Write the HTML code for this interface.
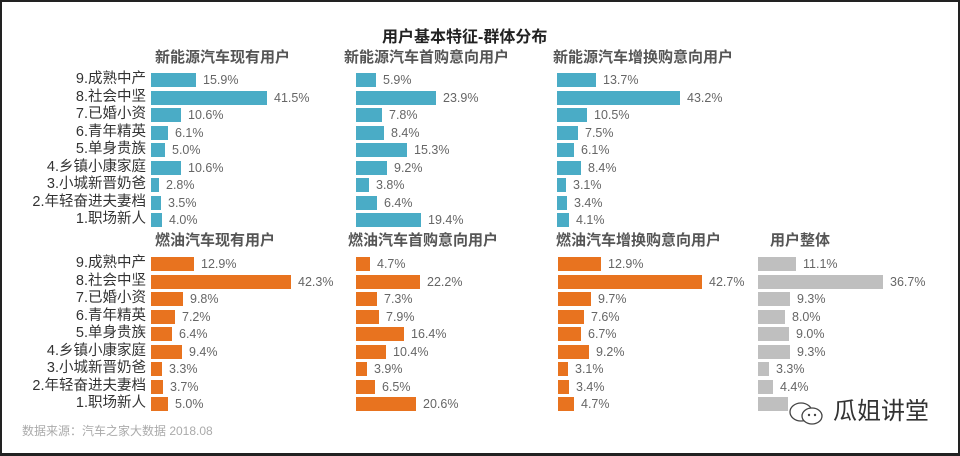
<!DOCTYPE html>
<html><head><meta charset="utf-8"><style>
*{margin:0;padding:0;box-sizing:border-box}
body{width:960px;height:456px;background:#fff;position:relative;overflow:hidden;font-family:"Liberation Sans","Noto Sans CJK SC",sans-serif}
.frame{position:absolute;left:0;top:0;width:960px;height:456px;border:2px solid #222;border-bottom-width:3px}
.t{position:absolute;font-weight:bold;color:#555;font-size:15px;white-space:nowrap;line-height:18px}
.cats{position:absolute;left:0;width:146px;text-align:right;font-size:14.5px;color:#333}
.cats div{height:17.5px;line-height:15px;white-space:nowrap}
.p{position:absolute}
.p div{height:17.5px;display:flex;align-items:flex-start}
.p i{display:block;height:14px}
.p span{font-size:12.5px;color:#666;margin-left:7px;line-height:14px}
.b i{background:#4aacc6}.o i{background:#e8731f}.g i{background:#bfbfbf}
</style></head><body>
<div class="frame"></div>
<div class="t" style="left:382px;top:29px;font-size:16px;color:#222">用户基本特征-群体分布</div>
<div class="t" style="left:155px;top:49px">新能源汽车现有用户</div>
<div class="t" style="left:344px;top:49px">新能源汽车首购意向用户</div>
<div class="t" style="left:553px;top:49px">新能源汽车增换购意向用户</div>
<div class="t" style="left:155px;top:232px">燃油汽车现有用户</div>
<div class="t" style="left:348px;top:232px">燃油汽车首购意向用户</div>
<div class="t" style="left:556px;top:232px">燃油汽车增换购意向用户</div>
<div class="t" style="left:770px;top:232px">用户整体</div>

<div class="cats" style="top:72px"><div>9.成熟中产</div><div>8.社会中坚</div><div>7.已婚小资</div><div>6.青年精英</div><div>5.单身贵族</div><div>4.乡镇小康家庭</div><div>3.小城新晋奶爸</div><div>2.年轻奋进夫妻档</div><div>1.职场新人</div></div>
<div class="cats" style="top:256px"><div>9.成熟中产</div><div>8.社会中坚</div><div>7.已婚小资</div><div>6.青年精英</div><div>5.单身贵族</div><div>4.乡镇小康家庭</div><div>3.小城新晋奶爸</div><div>2.年轻奋进夫妻档</div><div>1.职场新人</div></div>

<div class="p b" style="left:151px;top:73px">
<div><i style="width:45px"></i><span>15.9%</span></div><div><i style="width:116px"></i><span>41.5%</span></div><div><i style="width:30px"></i><span>10.6%</span></div><div><i style="width:17px"></i><span>6.1%</span></div><div><i style="width:14px"></i><span>5.0%</span></div><div><i style="width:30px"></i><span>10.6%</span></div><div><i style="width:8px"></i><span>2.8%</span></div><div><i style="width:10px"></i><span>3.5%</span></div><div><i style="width:11px"></i><span>4.0%</span></div></div>
<div class="p b" style="left:356px;top:73px">
<div><i style="width:20px"></i><span>5.9%</span></div><div><i style="width:80px"></i><span>23.9%</span></div><div><i style="width:26px"></i><span>7.8%</span></div><div><i style="width:28px"></i><span>8.4%</span></div><div><i style="width:51px"></i><span>15.3%</span></div><div><i style="width:31px"></i><span>9.2%</span></div><div><i style="width:13px"></i><span>3.8%</span></div><div><i style="width:21px"></i><span>6.4%</span></div><div><i style="width:65px"></i><span>19.4%</span></div></div>
<div class="p b" style="left:557px;top:73px">
<div><i style="width:39px"></i><span>13.7%</span></div><div><i style="width:123px"></i><span>43.2%</span></div><div><i style="width:30px"></i><span>10.5%</span></div><div><i style="width:21px"></i><span>7.5%</span></div><div><i style="width:17px"></i><span>6.1%</span></div><div><i style="width:24px"></i><span>8.4%</span></div><div><i style="width:9px"></i><span>3.1%</span></div><div><i style="width:10px"></i><span>3.4%</span></div><div><i style="width:12px"></i><span>4.1%</span></div></div>

<div class="p o" style="left:151px;top:257px">
<div><i style="width:43px"></i><span>12.9%</span></div><div><i style="width:140px"></i><span>42.3%</span></div><div><i style="width:32px"></i><span>9.8%</span></div><div><i style="width:24px"></i><span>7.2%</span></div><div><i style="width:21px"></i><span>6.4%</span></div><div><i style="width:31px"></i><span>9.4%</span></div><div><i style="width:11px"></i><span>3.3%</span></div><div><i style="width:12px"></i><span>3.7%</span></div><div><i style="width:17px"></i><span>5.0%</span></div></div>
<div class="p o" style="left:356px;top:257px">
<div><i style="width:14px"></i><span>4.7%</span></div><div><i style="width:64px"></i><span>22.2%</span></div><div><i style="width:21px"></i><span>7.3%</span></div><div><i style="width:23px"></i><span>7.9%</span></div><div><i style="width:48px"></i><span>16.4%</span></div><div><i style="width:30px"></i><span>10.4%</span></div><div><i style="width:11px"></i><span>3.9%</span></div><div><i style="width:19px"></i><span>6.5%</span></div><div><i style="width:60px"></i><span>20.6%</span></div></div>
<div class="p o" style="left:558px;top:257px">
<div><i style="width:43px"></i><span>12.9%</span></div><div><i style="width:144px"></i><span>42.7%</span></div><div><i style="width:33px"></i><span>9.7%</span></div><div><i style="width:26px"></i><span>7.6%</span></div><div><i style="width:23px"></i><span>6.7%</span></div><div><i style="width:31px"></i><span>9.2%</span></div><div><i style="width:10px"></i><span>3.1%</span></div><div><i style="width:11px"></i><span>3.4%</span></div><div><i style="width:16px"></i><span>4.7%</span></div></div>
<div class="p g" style="left:758px;top:257px">
<div><i style="width:38px"></i><span>11.1%</span></div><div><i style="width:125px"></i><span>36.7%</span></div><div><i style="width:32px"></i><span>9.3%</span></div><div><i style="width:27px"></i><span>8.0%</span></div><div><i style="width:31px"></i><span>9.0%</span></div><div><i style="width:32px"></i><span>9.3%</span></div><div><i style="width:11px"></i><span>3.3%</span></div><div><i style="width:15px"></i><span>4.4%</span></div><div><i style="width:30px"></i><span></span></div></div>

<div style="position:absolute;left:22px;top:422px;font-size:12px;color:#aaa;white-space:nowrap">数据来源：汽车之家大数据 2018.08</div>
<svg style="position:absolute;left:787px;top:398px" width="40" height="30"><ellipse cx="14" cy="14" rx="11" ry="9" fill="#fff" stroke="#444" stroke-width="1.3"/><ellipse cx="25" cy="18" rx="10" ry="8" fill="#fff" stroke="#444" stroke-width="1.3"/><circle cx="22" cy="17" r="1.2" fill="#444"/><circle cx="28" cy="17" r="1.2" fill="#444"/></svg>
<div style="position:absolute;left:833px;top:398px;font-size:24px;color:#333;white-space:nowrap;background:#fff;line-height:28px">瓜姐讲堂</div>
</body></html>
